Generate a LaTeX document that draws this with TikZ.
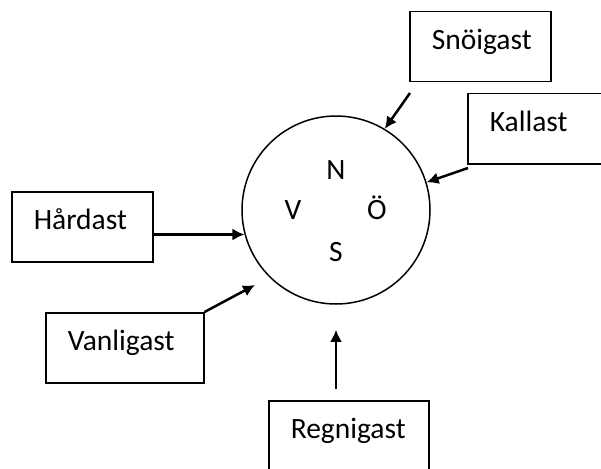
\documentclass[tikz,border=0pt]{standalone}
\usepackage{fontspec}
\setmainfont{Carlito}
\usetikzlibrary{arrows.meta}

\begin{document}
\begin{tikzpicture}[x=1pt, y=-1pt, >={Latex[length=12pt, width=12pt]}, font=\fontsize{29.5}{35}\selectfont]
    \tikzstyle{box}=[rectangle, draw, line width=1.5pt, anchor=north west, align=left, inner xsep=22pt, inner ysep=21pt, text height=17pt, text depth=11pt]
    \tikzstyle{letter}=[anchor=base, inner sep=0pt]
    \tikzstyle{arrow}=[->, line width=2.5pt]

    \useasboundingbox (0,0) rectangle (601,468);

    % compass with the four directions
    \node[circle, draw, line width=1.5pt, minimum size=188pt, inner sep=0pt] (compass) at (336,210) {};
    \node[letter] (north) at (336,179) {N};
    \node[letter] (west) at (293,219) {V};
    \node[letter] (east) at (377,219) {Ö};
    \node[letter] (south) at (336,261) {S};

    \node[box, text width=97pt] (snow) at (409,11) {Snöigast};
    \node[box, text width=108pt] (cold) at (467,93) {Kallast};
    \node[box, text width=97pt] (hard) at (11,191) {Hårdast};
    \node[box, text width=114pt] (usual) at (45,312) {Vanligast};
    \node[box, text width=116pt] (rain) at (268,400) {Regnigast};

    \coordinate (snowtail) at (410,93);
    \coordinate (coldtail) at (468,168);
    \coordinate (usualtip) at (255,285);

    \draw[arrow] (snowtail) -- (compass.59);
    \draw[arrow] (coldtail) -- (compass.17);
    \draw[arrow] (hard.east |- compass.195) -- (compass.195);
    \draw[arrow] (usual.north east) -- (usualtip);
    \draw[arrow, shorten <=11pt, shorten >=25pt] (rain.north -| compass.south) -- (compass.south);
\end{tikzpicture}
\end{document}
